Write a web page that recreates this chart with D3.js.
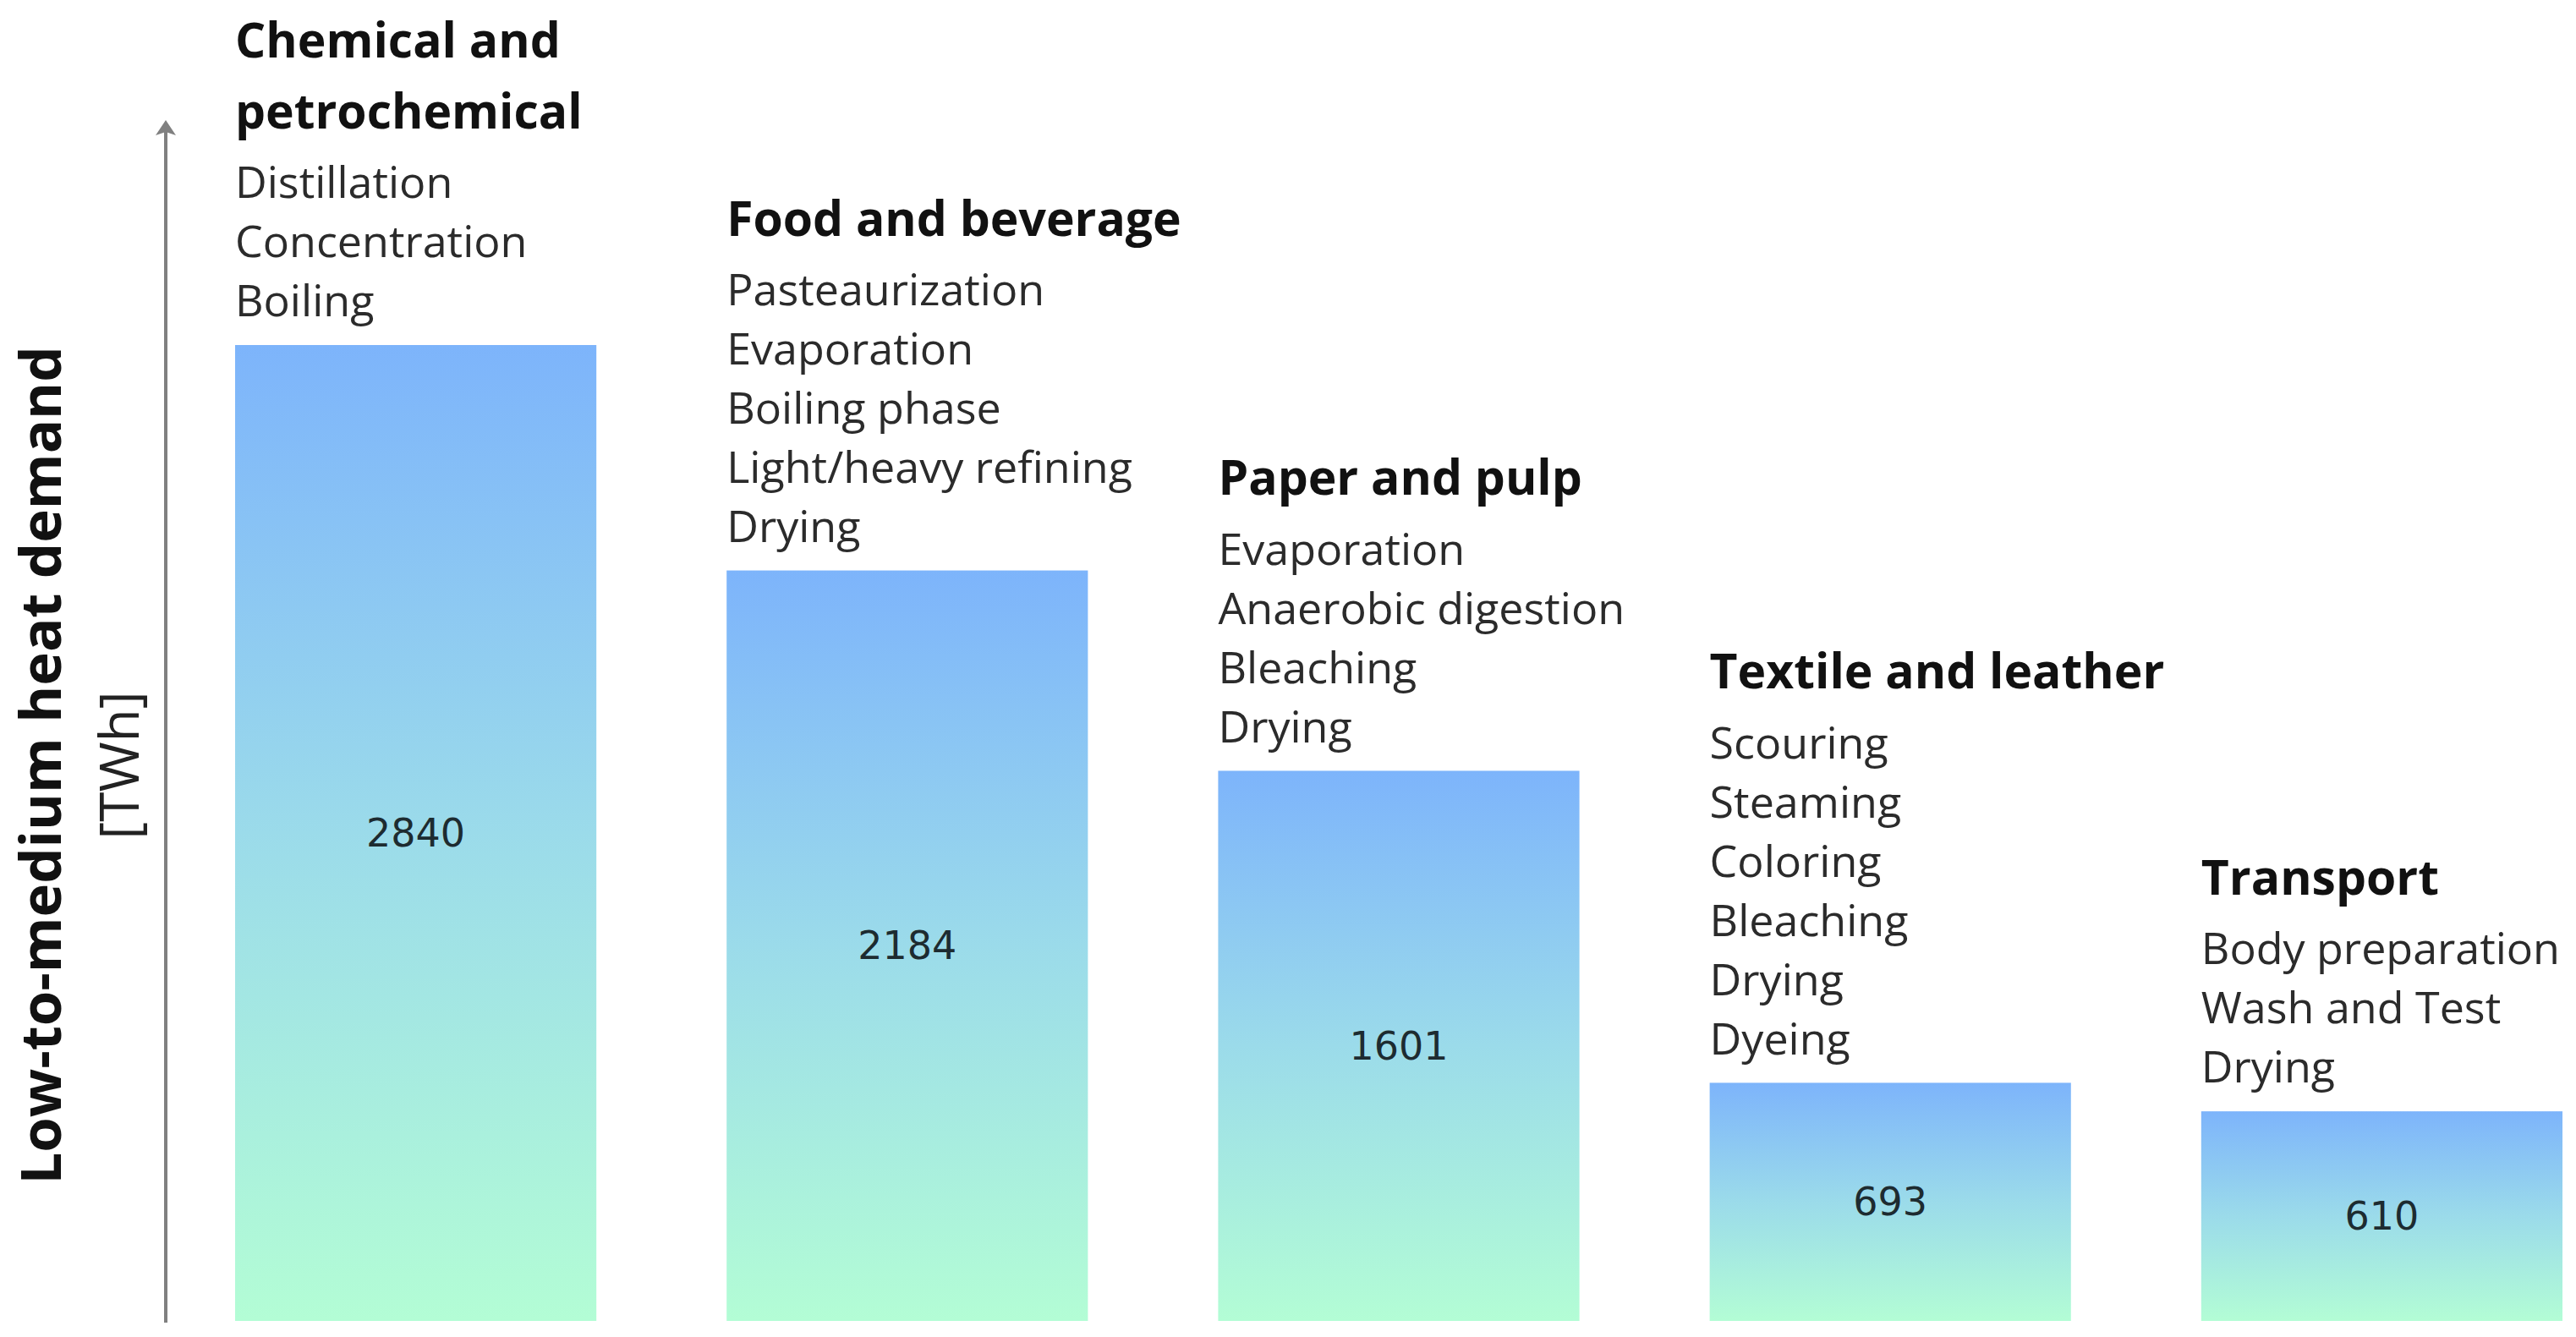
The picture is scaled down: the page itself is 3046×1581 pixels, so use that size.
<!DOCTYPE html>
<html>
<head>
<meta charset="utf-8">
<script src="https://cdn.jsdelivr.net/npm/d3@7"></script>
<style>
  html, body { margin: 0; padding: 0; background: #ffffff; }
  svg { display: block; }
</style>
</head>
<body>
<script>
"use strict";
// data
const sectors = ["Chemical and petrochemical", "Food and beverage", "Paper and pulp", "Textile and leather", "Transport"]
const demand = [2840, 2184, 1601, 693, 610]
const titleLines = [
    ["Chemical and", "petrochemical"],
    ["Food and beverage"],
    ["Paper and pulp"],
    ["Textile and leather"],
    ["Transport"]
]
const processes = [
    ["Distillation", "Concentration", "Boiling"],
    ["Pasteaurization", "Evaporation", "Boiling phase", "Light/heavy refining", "Drying"],
    ["Evaporation", "Anaerobic digestion", "Bleaching", "Drying"],
    ["Scouring", "Steaming", "Coloring", "Bleaching", "Drying", "Dyeing"],
    ["Body preparation", "Wash and Test", "Drying"]
]
const axisTitle = "Low-to-medium heat demand"
const axisUnit = "[TWh]"

;(function(){
    const measurements = {
        width: 3046,
        height: 1581,
        barLeft: 278,
        barRight: 3030,
        baseY: 1562,
        topY: 408,
        axisX: 196,
        arrowTip: 142
    }

    const svg = d3.select("body").append("svg")
        .attr("width", measurements.width)
        .attr("height", measurements.height)

    // gradient used by every bar (stretched to each bar's own box)
    const defs = svg.append("defs")
    const grad = defs.append("linearGradient")
        .attr("id", "barGrad")
        .attr("x1", 0).attr("y1", 0).attr("x2", 0).attr("y2", 1)
    grad.append("stop").attr("offset", "0%").attr("stop-color", "#7db4fb")
    grad.append("stop").attr("offset", "50%").attr("stop-color", "#9bdbea")
    grad.append("stop").attr("offset", "100%").attr("stop-color", "#b3fdd5")

    const rows = sectors.map((s, i) => ({
        sector: s, value: demand[i], title: titleLines[i], items: processes[i]
    }))

    const scaleX = d3.scaleBand()
        .domain(sectors)
        .range([measurements.barLeft, measurements.barRight])
        .paddingInner(0.265)
        .paddingOuter(0)

    const scaleY = d3.scaleLinear()
        .domain([0, d3.max(demand)])
        .range([measurements.baseY, measurements.topY])

    // vertical arrow standing in for the y axis
    const ax = measurements.axisX, tip = measurements.arrowTip
    svg.append("line")
        .attr("x1", ax).attr("x2", ax)
        .attr("y1", measurements.baseY + 2).attr("y2", tip + 10)
        .attr("stroke", "#808080")
        .attr("stroke-width", 4)
    svg.append("path")
        .attr("d", `M${ax},${tip} L${ax + 12},${tip + 18} L${ax},${tip + 14} L${ax - 12},${tip + 18} Z`)
        .attr("fill", "#808080")

    // axis titles
    svg.append("text")
        .attr("transform", "translate(49, 905) rotate(-90)")
        .attr("text-anchor", "middle")
        .attr("dy", "0.35em")
        .style("font-family", "'Open Sans', sans-serif")
        .style("font-weight", 700)
        .style("font-size", "67px")
        .attr("fill", "#111")
        .text(axisTitle)

    svg.append("text")
        .attr("transform", "translate(142, 905) rotate(-90)")
        .attr("text-anchor", "middle")
        .attr("dy", "0.35em")
        .style("font-family", "'Open Sans', sans-serif")
        .style("font-size", "64px")
        .attr("fill", "#222")
        .text(axisUnit)

    const groups = svg.selectAll(".sector")
        .data(rows)
        .enter()
        .append("g")
        .attr("class", "sector")

    groups.append("rect")
        .attr("x", d => scaleX(d.sector))
        .attr("y", d => scaleY(d.value))
        .attr("width", scaleX.bandwidth())
        .attr("height", d => scaleY(0) - scaleY(d.value))
        .attr("fill", "url(#barGrad)")

    groups.append("text")
        .attr("x", d => scaleX(d.sector) + scaleX.bandwidth() / 2)
        .attr("y", d => (scaleY(0) + scaleY(d.value)) / 2)
        .attr("dy", "0.35em")
        .attr("text-anchor", "middle")
        .style("font-family", "'DejaVu Sans', sans-serif")
        .style("font-size", "46px")
        .attr("fill", "#1d2b30")
        .text(d => d.value)

    // process lists stacked above each bar
    const itemGap = 70, lastGap = 52, titleGap = 84
    groups.each(function(d) {
        const g = d3.select(this)
        const x0 = scaleX(d.sector)
        const top = scaleY(d.value)
        const n = d.items.length
        const firstItem = top - lastGap - itemGap * (n - 1)

        g.selectAll(".item")
            .data(d.items)
            .enter()
            .append("text")
            .attr("class", "item")
            .attr("x", x0)
            .attr("y", (t, j) => firstItem + j * itemGap)
            .attr("dy", "0.35em")
            .style("font-family", "'Open Sans', sans-serif")
            .style("font-size", "52px")
            .attr("fill", "#2b2b2b")
            .text(t => t)

        const m = d.title.length
        g.selectAll(".title")
            .data(d.title)
            .enter()
            .append("text")
            .attr("class", "title")
            .attr("x", x0)
            .attr("y", (t, j) => firstItem - titleGap * (m - j))
            .attr("dy", "0.35em")
            .style("font-family", "'Open Sans', sans-serif")
            .style("font-weight", 700)
            .style("font-size", "57px")
            .attr("fill", "#111")
            .text(t => t)
    })
})()
</script>
</body>
</html>
